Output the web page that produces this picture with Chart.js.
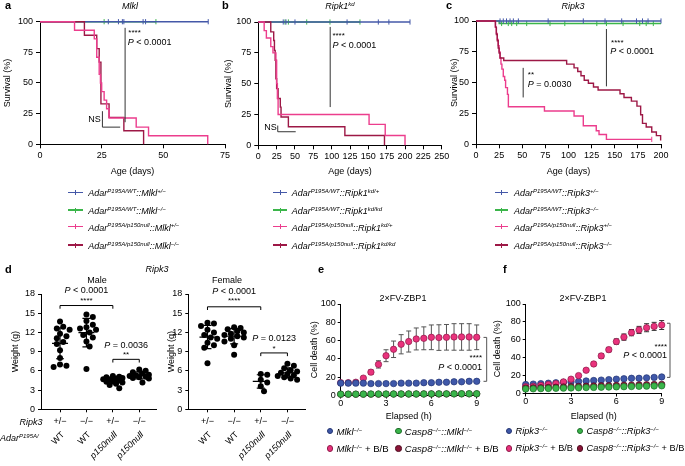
<!DOCTYPE html>
<html><head><meta charset="utf-8">
<script src="https://cdn.jsdelivr.net/npm/chart.js@4/dist/chart.umd.min.js"></script>
<style>
html,body{margin:0;padding:0;background:#fff;}
#wrap{position:relative;width:685px;height:466px;overflow:hidden;font-family:'Liberation Sans',Arial,sans-serif;color:#000;}
#wrap canvas{position:absolute;left:0;top:0;}
.t{position:absolute;white-space:nowrap;font-size:9px;line-height:1;}
.i{font-style:italic;}
.n{font-style:normal;}
sup{font-size:6px;vertical-align:baseline;position:relative;top:-3.5px;}
</style></head>
<body><div id="wrap"></div>
<script>
// ================= DATA =================
// Panel a: Mlkl  (Kaplan–Meier: event time in days, survival %)
const aWtHetT = [0, 68.2], aWtHetS = [100, 100];
const aWtKoT = [0, 47], aWtKoS = [100, 100];
const aWtHetCens = [27.7, 31.8, 33.4, 34, 41.8, 42.8, 68.2];
const aWtKoCens = [26, 47];
const aNullHetT = [0, 14, 22, 23, 24, 24.5, 25, 26, 27, 28, 39, 44, 68];
const aNullHetS = [100, 93, 86, 71, 57, 50, 43, 36, 29, 21.5, 14, 7, 0];
const aNullKoT = [0, 18, 23, 24, 24.7, 28, 34, 42];
const aNullKoS = [100, 89, 78, 67, 33, 22, 11, 0];

// Panel b: Ripk1 kd
const bWtHetT = [0, 206.8], bWtHetS = [100, 100];
const bWtKoT = [0, 138.6], bWtKoS = [100, 100];
const bWtHetCens = [34, 37.7, 50, 121, 163.6, 178, 206.8];
const bWtKoCens = [36.4, 41, 66, 97.7, 138.6];
const bNullHetT = [0, 8, 11, 17, 20, 24, 25, 26, 27, 151, 173, 200];
const bNullHetS = [100, 93, 87, 80, 75, 69, 50, 38, 25, 17, 8, 0];
const bNullKoT = [0, 17, 21, 22, 23, 24, 25, 27, 30, 31, 41, 118, 172];
const bNullKoS = [100, 92, 85, 77, 69, 54, 46, 38, 31, 23, 15, 8, 0];

// Panel c: Ripk3
const cWtHetT = [0, 200], cWtHetS = [100, 100];
const cWtKoT = [0, 25, 200], cWtKoS = [100, 98, 98];
const cWtHetCens = [26, 29.5, 33, 36.8, 40.4, 45.8, 78, 116, 139.5, 157.5, 173.5, 180, 186, 200];
const cWtKoCens = [27.7, 34.9, 38.6, 44, 54.8, 80, 96, 130.6, 141, 159, 177, 184, 191.7];
const cNullHetT = [0, 21, 22, 23, 24, 25, 26, 27, 28, 29.5, 31, 32, 34, 35, 74, 106, 116, 130, 133, 141, 190];
const cNullHetS = [100, 95, 90, 85, 80, 75, 70, 65, 61, 55, 52, 46, 40.5, 30.5, 27, 23, 15, 11, 8, 4, 4];
const cNullHetCens = [190];
const cNullKoT = [0, 21, 22, 23, 24, 25, 26, 30, 98, 106, 110, 113.5, 117, 121.5, 127, 132, 155.7, 160, 168, 174, 178, 180, 184, 190, 195, 199.6];
const cNullKoS = [100, 95, 89, 84, 78, 74, 70, 68, 65, 62, 59, 55.6, 52, 49.5, 46.5, 44, 41, 38, 35, 31, 24, 17, 14, 10, 7, 3];

// Panel d: body weight (g)
const dGenotype = ['+/\u2212', '\u2212/\u2212', '+/\u2212', '\u2212/\u2212'];
const dAdar = ['WT', 'WT', 'p150null', 'p150null'];
const dMale = [
  [13.7, 12.9, 12.6, 12.4, 11.8, 11.4, 11.1, 10.5, 10.2, 9.2, 8.0, 7.0, 6.8, 6.6],
  [14.8, 14.4, 13.8, 13.2, 12.8, 12.6, 12.4, 12.0, 11.6, 11.2, 10.6, 9.8, 6.3],
  [5.2, 5.1, 5.0, 4.9, 4.8, 4.7, 4.6, 4.5, 4.4, 4.3, 4.2, 4.0, 3.8, 3.3],
  [6.2, 6.0, 5.8, 5.6, 5.4, 5.3, 5.2, 5.1, 5.0, 4.9, 4.8, 4.2]
];
const dFemale = [
  [13.5, 13.4, 13.0, 12.4, 12.0, 11.6, 11.2, 11.0, 10.4, 10.0, 9.6, 7.2],
  [12.8, 12.7, 12.5, 12.2, 12.0, 11.8, 11.6, 11.4, 11.2, 11.0, 10.6, 10.0, 8.5],
  [5.5, 5.4, 4.6, 4.2, 3.6, 2.8],
  [7.1, 6.8, 6.4, 6.1, 5.9, 5.7, 5.5, 5.3, 5.2, 5.0, 4.8, 4.6]
];

// Panels e, f: cell death (%) over time (h), mean and error
const eTime = [0, 0.5, 1, 1.5, 2, 2.5, 3, 3.5, 4, 4.5, 5, 5.5, 6, 6.5, 7, 7.5, 8, 8.5, 9];
const eMlkl = [13.5, 13.5, 13.5, 13.5, 13, 13, 13, 13, 13.5, 13.5, 13.5, 14, 14, 14.5, 14.5, 15, 15, 15.5, 15.5];
const eMlklErr = [1.5, 1.5, 1.5, 1.5, 1, 1, 1, 1, 1, 1, 1, 1, 1, 1, 1, 1, 1, 1, 1];
const eMlklBB = [14, 14, 14.5, 19, 25.5, 34, 43.5, 50.5, 56, 59, 61.8, 62.5, 63.6, 63.3, 63.6, 64, 64, 64, 63.6];
const eMlklBBErr = [1, 1, 1, 1.5, 2.5, 4, 6.5, 9, 10.5, 11.5, 12, 12.5, 13.5, 14, 14, 14.5, 14.5, 14.5, 13.5];
const eCaspMlkl = [1.5, 1.5, 1.5, 1.5, 1.6, 1.6, 1.6, 1.6, 1.7, 1.7, 1.7, 1.7, 1.8, 1.8, 1.8, 1.8, 1.9, 1.9, 1.9];
const eCaspMlklBB = [1.4, 1.4, 1.4, 1.5, 1.5, 1.5, 1.5, 1.6, 1.6, 1.6, 1.6, 1.7, 1.7, 1.7, 1.7, 1.8, 1.8, 1.8, 1.8];
const fRipk3 = [10, 10.5, 11, 11.5, 12, 12.5, 13, 13.5, 14, 14.5, 15, 15.5, 16, 16.5, 17, 17, 17.5, 18, 18.5];
const fRipk3Err = [1, 1, 1, 1, 1, 1, 1, 1, 1, 1, 1, 1, 1, 1, 1, 1, 1, 1, 1];
const fRipk3BB = [7.5, 8, 9, 10, 11, 13, 16, 20, 26, 33, 42, 49, 58, 63, 68, 71, 73.5, 75, 76.5];
const fRipk3BBErr = [0.5, 0.5, 0.5, 0.5, 0.5, 0.8, 1, 1.5, 1.5, 2, 2.5, 2.5, 3, 3.5, 3.5, 4, 4.5, 4.5, 5];
const fCaspRipk3 = [5, 5.2, 5.4, 5.6, 5.8, 6, 6.2, 6.4, 6.6, 6.8, 7, 7.2, 7.4, 7.6, 7.8, 8, 8.2, 8.4, 8.6];
const fCaspRipk3BB = [6, 6.2, 6.4, 6.7, 7, 7.3, 7.6, 7.9, 8.2, 8.4, 8.6, 8.8, 9, 9.2, 9.4, 9.6, 9.8, 10, 10.2];

// ================= STYLE / HELPERS =================
const FONT = "'Liberation Sans', Arial, sans-serif";
Chart.defaults.font.family = FONT;
Chart.defaults.font.size = 9;
Chart.defaults.color = '#000';
const W = 685, H = 466, LH = 10.8;
const C = {blue:'#4458a8', green:'#3bb54a', pink:'#ec3d8d', dark:'#9d1846'};
const M = {
  blue:['#3f58a9','#233472'], pink:['#e9327c','#8d1a48'],
  green:['#3ab54a','#1d6c29'], dark:['#8c1538','#4d0a1e']
};
const wrap = document.getElementById('wrap');

function mkCanvas(){
  const c = document.createElement('canvas');
  c.width = W; c.height = H; c.style.width = W + 'px'; c.style.height = H + 'px';
  wrap.appendChild(c); return c;
}
function txt(html, x, y, o){
  o = o || {};
  const d = document.createElement('div');
  d.className = 't' + (o.cls ? ' ' + o.cls : '');
  d.innerHTML = html;
  d.style.left = x + 'px'; d.style.top = y + 'px';
  if (o.size) d.style.fontSize = o.size + 'px';
  if (o.bold) d.style.fontWeight = 'bold';
  const ax = o.align === 'center' ? '-50%' : (o.align === 'right' ? '-100%' : '0');
  d.style.transform = 'translate(' + ax + ',-50%)';
  wrap.appendChild(d);
}
function axis(min, max, step, tl, pad, extra){
  return Object.assign({
    type:'linear', min:min, max:max,
    ticks:{stepSize:step, autoSkip:false, maxRotation:0, minRotation:0, padding:pad, font:{size:9}, color:'#000'},
    grid:{display:true, drawOnChartArea:false, drawTicks:true, tickLength:tl, color:'#000', lineWidth:1},
    border:{display:true, color:'#000', width:1}
  }, extra || {});
}
function build(area, sx, sy, yTitle, yTitleX, xTitle, xTitleY, datasets, plugins, type){
  const yW = yTitle ? area.l - (yTitleX - LH / 2) : 30;
  const xH = xTitle ? (xTitleY + LH / 2 - area.b) : 40;
  sy.afterFit = s => { s.width = yW; };
  sx.afterFit = s => { s.height = xH; };
  if (yTitle) sy.title = {display:true, text:yTitle, font:{size:9}, color:'#000', padding:{top:0, bottom:0}};
  if (xTitle) sx.title = {display:true, text:xTitle, font:{size:9}, color:'#000', padding:{top:0, bottom:0}};
  return new Chart(mkCanvas(), {
    type: type || 'line',
    data: {datasets: datasets},
    options: {
      responsive:false, animation:false, devicePixelRatio:1, events:[],
      layout:{padding:{left:area.l - yW, top:area.t, right:W - area.r, bottom:H - area.b - xH}},
      plugins:{legend:{display:false}, tooltip:{enabled:false}},
      scales:{x:sx, y:sy}
    },
    plugins: plugins || []
  });
}
function km(T, S, color){
  return {type:'line', data:T.map((t, i) => ({x:t, y:S[i]})), stepped:'before',
    borderColor:color, borderWidth:1.4, pointRadius:0, fill:false, clip:false};
}
function cens(T, yv, color){
  return {type:'line', showLine:false, data:T.map(t => ({x:t, y:yv})), pointStyle:'line',
    pointRotation:90, pointRadius:2.6, pointBorderWidth:1, pointBorderColor:color,
    borderColor:color, pointBackgroundColor:color, clip:false};
}
function fontStr(p, size){ return (p.i ? 'italic ' : '') + (p.s || size) + 'px ' + FONT; }
function drawRich(ctx, parts, x, y, align, size){
  const widths = parts.map(p => { ctx.font = fontStr(p, size); return ctx.measureText(p.t).width; });
  const total = widths.reduce((a, b) => a + b, 0);
  let sx = align === 'center' ? x - total / 2 : (align === 'right' ? x - total : x);
  ctx.textBaseline = 'middle'; ctx.textAlign = 'left'; ctx.fillStyle = '#000';
  parts.forEach((p, i) => { ctx.font = fontStr(p, size); ctx.fillText(p.t, sx, y + (p.dy || 0)); sx += widths[i]; });
}
const Pt = s => [{t:'P', i:true}, {t:s}];
const stars = n => [{t:'*'.repeat(n), s:8}];
function annot(spec){
  return {id:'annot', afterDatasetsDraw(chart){
    const ctx = chart.ctx, x = chart.scales.x, y = chart.scales.y;
    ctx.save();
    (spec.lines || []).forEach(l => {
      ctx.beginPath(); ctx.strokeStyle = l.c || '#333'; ctx.lineWidth = l.w || 1;
      l.p.forEach((p, i) => { const px = x.getPixelForValue(p[0]), py = y.getPixelForValue(p[1]); if (i) ctx.lineTo(px, py); else ctx.moveTo(px, py); });
      ctx.stroke();
    });
    (spec.texts || []).forEach(t => drawRich(ctx, t.parts, x.getPixelForValue(t.x), y.getPixelForValue(t.y), t.a || 'left', t.s || 9));
    ctx.restore();
  }};
}
function errBars(list){
  return {id:'errbars', beforeDatasetsDraw(chart){
    const ctx = chart.ctx, x = chart.scales.x, y = chart.scales.y;
    ctx.save();
    list.forEach(e => {
      ctx.strokeStyle = e.c; ctx.lineWidth = 1;
      e.xs.forEach((xv, i) => {
        const err = e.err[i]; if (!err) return;
        const px = x.getPixelForValue(xv), y1 = y.getPixelForValue(e.ys[i] - err), y2 = y.getPixelForValue(e.ys[i] + err);
        ctx.beginPath();
        ctx.moveTo(px, y1); ctx.lineTo(px, y2);
        ctx.moveTo(px - 2.5, y1); ctx.lineTo(px + 2.5, y1);
        ctx.moveTo(px - 2.5, y2); ctx.lineTo(px + 2.5, y2);
        ctx.stroke();
      });
    });
    ctx.restore();
  }};
}
// deterministic beeswarm-style spread (limited width, overlap allowed)
function swarm(vals, cat, pxX, pxY){
  const idx = vals.map((v, i) => i).sort((a, b) => vals[b] - vals[a]);
  const placed = [], out = new Array(vals.length);
  const step = 3.2, maxOff = 9.6, need = 5.2;
  const cands = [0];
  for (let k = 1; k * step <= maxOff + 0.01; k++) { cands.push(k * step, -k * step); }
  idx.forEach(i => {
    const v = vals[i];
    let best = 0, bestD = -1;
    for (const off of cands){
      let mn = Infinity;
      placed.forEach(p => { mn = Math.min(mn, Math.hypot(p.dx - off, (p.v - v) * pxY)); });
      if (mn >= need){ best = off; bestD = Infinity; break; }
      if (mn > bestD){ bestD = mn; best = off; }
    }
    placed.push({dx:best, v:v});
    out[i] = {x:cat + best / pxX, y:v};
  });
  return out;
}
function meanSd(a){
  const m = a.reduce((s, v) => s + v, 0) / a.length;
  const sd = Math.sqrt(a.reduce((s, v) => s + (v - m) ** 2, 0) / (a.length - 1));
  return [m, sd];
}
function dotStats(groups){
  return {id:'dotstats', afterDatasetsDraw(chart){
    const ctx = chart.ctx, x = chart.scales.x, y = chart.scales.y;
    ctx.save(); ctx.strokeStyle = '#000'; ctx.lineWidth = 1.2;
    groups.forEach((g, i) => {
      const [m, sd] = meanSd(g);
      const px = x.getPixelForValue(i + 1), pm = y.getPixelForValue(m), p1 = y.getPixelForValue(m - sd), p2 = y.getPixelForValue(m + sd);
      ctx.beginPath();
      ctx.moveTo(px - 8, pm); ctx.lineTo(px + 8, pm);
      ctx.moveTo(px, p1); ctx.lineTo(px, p2);
      ctx.moveTo(px - 4, p1); ctx.lineTo(px + 4, p1);
      ctx.moveTo(px - 4, p2); ctx.lineTo(px + 4, p2);
      ctx.stroke();
    });
    ctx.restore();
  }};
}
function rotLabels(labels){
  return {id:'rotlab', afterDraw(chart){
    const ctx = chart.ctx, x = chart.scales.x;
    ctx.save(); ctx.fillStyle = '#000'; ctx.textAlign = 'right'; ctx.textBaseline = 'middle';
    labels.forEach((l, i) => {
      const px = x.getPixelForValue(i + 1);
      ctx.save(); ctx.translate(px + 3, x.top + 24); ctx.rotate(-Math.PI / 4);
      ctx.font = (l === 'WT' ? '' : 'italic ') + '9px ' + FONT;
      ctx.fillText(l, 0, 0); ctx.restore();
    });
    ctx.restore();
  }};
}

// ================= PANELS a, b, c =================
// (first dataset is drawn on top)
build({l:40, t:21.7, r:225, b:144.3},
  axis(0, 75, 25, 4, 1.5), axis(0, 100, 25, 4, 3), 'Survival (%)', 7.5, 'Age (days)', 172,
  [km(aNullHetT, aNullHetS, C.pink), km(aNullKoT, aNullKoS, C.dark),
   cens(aWtHetCens, 100, C.blue), km(aWtHetT, aWtHetS, C.blue),
   cens(aWtKoCens, 100, C.green), km(aWtKoT, aWtKoS, C.green)],
  [annot({lines:[{p:[[34.5, 95], [34.5, 18]]}, {p:[[25.3, 27], [25.3, 14], [32.5, 14]]}],
          texts:[{x:35.8, y:91, parts:stars(4)}, {x:35.6, y:83, parts:Pt(' < 0.0001')},
                 {x:24.6, y:20, parts:[{t:'NS'}], a:'right'}]})]);

build({l:258.3, t:22, r:441.7, b:145.3},
  axis(0, 250, 25, 4, 1.5), axis(0, 100, 25, 4, 3), 'Survival (%)', 228.3, 'Age (days)', 172,
  [km(bNullHetT, bNullHetS, C.pink), km(bNullKoT, bNullKoS, C.dark),
   cens(bWtHetCens, 100, C.blue), km(bWtHetT, bWtHetS, C.blue),
   cens(bWtKoCens, 100, C.green), km(bWtKoT, bWtKoS, C.green)],
  [annot({lines:[{p:[[98, 96], [98, 31]]}, {p:[[26.5, 16], [26.5, 11], [51, 11]]}],
          texts:[{x:101, y:89, parts:stars(4)}, {x:101, y:81, parts:Pt(' < 0.0001')},
                 {x:25, y:14.5, parts:[{t:'NS'}], a:'right'}]})]);

build({l:476, t:21, r:661, b:144.3},
  axis(0, 200, 25, 4, 1.5), axis(0, 100, 25, 4, 3), 'Survival (%)', 455, 'Age (days)', 172,
  [km(cNullKoT, cNullKoS, C.dark), cens(cNullHetCens, 4, C.pink), km(cNullHetT, cNullHetS, C.pink),
   cens(cWtHetCens, 100, C.blue), km(cWtHetT, cWtHetS, C.blue),
   cens(cWtKoCens, 98, C.green), km(cWtKoT, cWtKoS, C.green)],
  [annot({lines:[{p:[[51, 62], [51, 38]]}, {p:[[141, 93.5], [141, 47]]}],
          texts:[{x:56, y:56, parts:stars(2)}, {x:56, y:48.5, parts:Pt(' = 0.0030')},
                 {x:146, y:82, parts:stars(4)}, {x:145, y:75, parts:Pt(' < 0.0001')}]})]);

// ================= PANEL d =================
function dChart(area, groups, yTitleX, ann){
  const sx = axis(0.28, 4.66, 1, 3, 4);
  sx.afterBuildTicks = s => { s.ticks = [1, 2, 3, 4].map(v => ({value:v})); };
  sx.ticks.callback = v => dGenotype[v - 1];
  const ds = groups.map((g, i) => ({type:'scatter', data:swarm(g, i + 1, 26.4, 6.39),
    pointRadius:3, pointBackgroundColor:'#000', pointBorderColor:'#000', pointBorderWidth:0, showLine:false, clip:false}));
  return build(area, sx, axis(0, 18, 3, 3, 3), 'Weight (g)', yTitleX, null, 0, ds,
    [dotStats(groups), rotLabels(dAdar), annot(ann)], 'scatter');
}
dChart({l:41, t:294, r:156.7, b:409.3}, dMale, 16, {
  lines:[{p:[[1, 15.7], [1, 16.2], [3, 16.2], [3, 15.7]], c:'#000'}, {p:[[3, 7.3], [3, 7.8], [4, 7.8], [4, 7.3]], c:'#000'}],
  texts:[{x:2, y:17.0, parts:stars(4), a:'center'}, {x:2, y:18.6, parts:Pt(' < 0.0001'), a:'center'},
         {x:3.5, y:8.55, parts:stars(2), a:'center'}, {x:3.5, y:9.9, parts:Pt(' = 0.0036'), a:'center'}]});
dChart({l:188.3, t:294, r:305, b:409.3}, dFemale, 172, {
  lines:[{p:[[1, 15.5], [1, 16.0], [3, 16.0], [3, 15.5]], c:'#000'}, {p:[[3, 8.3], [3, 8.8], [4, 8.8], [4, 8.3]], c:'#000'}],
  texts:[{x:2, y:17.0, parts:stars(4), a:'center'}, {x:2, y:18.4, parts:Pt(' < 0.0001'), a:'center'},
         {x:3.5, y:9.5, parts:stars(1), a:'center'}, {x:3.5, y:11.1, parts:Pt(' = 0.0123'), a:'center'}]});

// ================= PANELS e, f =================
function pts(ys){ return eTime.map((t, i) => ({x:t, y:ys[i]})); }
function sc(ys, col){
  return {type:'scatter', data:pts(ys), pointRadius:3.2, pointBackgroundColor:M[col][0],
    pointBorderColor:M[col][1], pointBorderWidth:0.7, showLine:false, clip:false};
}
build({l:340.7, t:304, r:476.7, b:395.5},
  axis(0, 9, 3, 3, 0), axis(0, 100, 20, 3, 2), 'Cell death (%)', 315, 'Elapsed (h)', 416.7,
  [sc(eCaspMlkl, 'green'), sc(eCaspMlklBB, 'dark'), sc(eMlkl, 'blue'), sc(eMlklBB, 'pink')],
  [errBars([{xs:eTime, ys:eMlklBB, err:eMlklBBErr, c:'#555'}, {xs:eTime, ys:eMlkl, err:eMlklErr, c:'#333'}]),
   annot({lines:[{p:[[9.45, 63.5], [9.66, 63.5], [9.66, 15.5], [9.45, 15.5]], c:'#555'}],
          texts:[{x:9.35, y:41, parts:stars(4), a:'right'}, {x:9.35, y:31, parts:Pt(' < 0.0001'), a:'right'}]})], 'scatter');

build({l:525.7, t:304, r:661.7, b:393.5},
  axis(0, 9, 3, 3, 0), axis(0, 100, 20, 3, 2), 'Cell death (%)', 498, 'Elapsed (h)', 416.7,
  [sc(fCaspRipk3, 'green'), sc(fCaspRipk3BB, 'dark'), sc(fRipk3BB, 'pink'), sc(fRipk3, 'blue')],
  [errBars([{xs:eTime, ys:fRipk3BB, err:fRipk3BBErr, c:'#333'}, {xs:eTime, ys:fRipk3, err:fRipk3Err, c:'#333'}]),
   annot({lines:[{p:[[9.35, 78.5], [9.55, 78.5], [9.55, 18], [9.35, 18]], c:'#555'}],
          texts:[{x:9.35, y:52, parts:stars(4), a:'right'}, {x:9.35, y:42, parts:Pt(' < 0.0001'), a:'right'}]})], 'scatter');

// ================= TEXT (labels, titles, legends) =================
[['a', 5, 5], ['b', 222, 5], ['c', 446, 5], ['d', 5, 269], ['e', 318, 269], ['f', 503, 269]]
  .forEach(l => txt(l[0], l[1], l[2], {bold:true, size:11}));
txt('Mlkl', 130, 6, {cls:'i', align:'center'});
txt('Ripk1<sup>kd</sup>', 340, 6, {cls:'i', align:'center'});
txt('Ripk3', 573, 6, {cls:'i', align:'center'});
txt('Ripk3', 157, 269, {cls:'i', align:'center'});
txt('Male', 97, 280, {align:'center'});
txt('Female', 227, 280, {align:'center'});
txt('Ripk3', 42.5, 421.7, {cls:'i', align:'right'});
txt('Adar<sup>P195A/</sup>', 0, 438, {cls:'i'});
txt('2\u00d7FV-ZBP1', 403, 298, {align:'center'});
txt('2\u00d7FV-ZBP1', 583, 298, {align:'center'});

const MI = '\u2212';
const legRows = [192.3, 210, 226.7, 245];
const legCols = [
  {x1:68.3, x2:82.7, tx:88.3, gene:'Mlkl', het:'+/' + MI, ko:MI + '/' + MI},
  {x1:272.7, x2:287.3, tx:291.7, gene:'Ripk1', het:'kd/+', ko:'kd/kd'},
  {x1:495, x2:508.3, tx:514, gene:'Ripk3', het:'+/' + MI, ko:MI + '/' + MI}
];
const legColors = [C.blue, C.green, C.pink, C.dark];
legCols.forEach(col => {
  const adar = ['P195A/WT', 'P195A/WT', 'P195A/p150null', 'P195A/p150null'];
  const gt = [col.het, col.ko, col.het, col.ko];
  legRows.forEach((y, r) => {
    const ln = document.createElement('div');
    ln.style.cssText = 'position:absolute;left:' + col.x1 + 'px;top:' + (y - 0.7) + 'px;width:' + (col.x2 - col.x1) + 'px;height:1.4px;background:' + legColors[r];
    wrap.appendChild(ln);
    const tk = document.createElement('div');
    tk.style.cssText = 'position:absolute;left:' + ((col.x1 + col.x2) / 2 - 0.5) + 'px;top:' + (y - 2.5) + 'px;width:1px;height:5px;background:' + legColors[r];
    wrap.appendChild(tk);
    txt('Adar<sup>' + adar[r] + '</sup>::' + col.gene + '<sup>' + gt[r] + '</sup>', col.tx, y + 1, {cls:'i'});
  });
});

function dot(x, y, col){
  const d = document.createElement('div');
  d.style.cssText = 'position:absolute;left:' + (x - 3.3) + 'px;top:' + (y - 3.3) + 'px;width:6.6px;height:6.6px;border-radius:50%;box-sizing:border-box;background:' + M[col][0] + ';border:0.7px solid ' + M[col][1];
  wrap.appendChild(d);
}
function ekLegend(gene, c1, c2, size){
  const ko = '<sup>' + MI + '/' + MI + '</sup>';
  const o = {cls:'i', size:size};
  dot(c1, 431, 'blue'); txt(gene + ko, c1 + 6.5, 432, o);
  dot(c2, 431, 'green'); txt('Casp8' + ko + '::' + gene + ko, c2 + 6.5, 432, o);
  dot(c1, 448.3, 'pink'); txt(gene + ko + '<span class="n"> + B/B</span>', c1 + 6.5, 449.3, o);
  dot(c2, 448.3, 'dark'); txt('Casp8' + ko + '::' + gene + ko + '<span class="n"> + B/B</span>', c2 + 6.5, 449.3, o);
}
ekLegend('Mlkl', 330, 398.3, 9.6);
ekLegend('Ripk3', 509, 580, 9.2);
</script>
</body></html>
